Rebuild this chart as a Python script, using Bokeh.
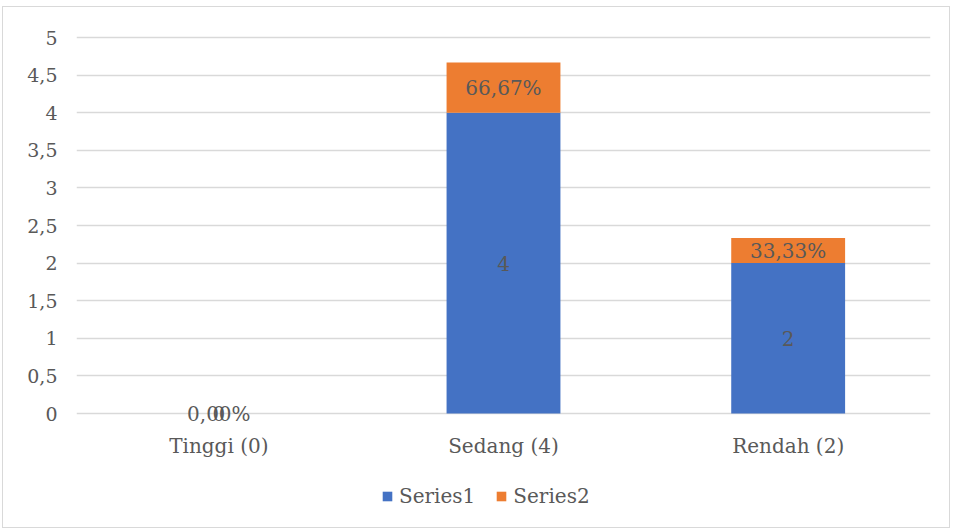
from bokeh.plotting import figure
from bokeh.models import ColumnDataSource, FixedTicker, Legend, LegendItem, LabelSet, FactorRange, Range1d
from bokeh.core.properties import value
from bokeh.embed import file_html
from bokeh.resources import INLINE

categories = ["Tinggi (0)", "Sedang (4)", "Rendah (2)"]
series1 = [0, 4, 2]
series2 = [0, 0.6667, 0.3333]
series1_labels = ["0", "4", "2"]
series2_labels = ["0,00%", "66,67%", "33,33%"]
y_ticks = [0, 0.5, 1, 1.5, 2, 2.5, 3, 3.5, 4, 4.5, 5]
y_tick_labels = ["0", "0,5", "1", "1,5", "2", "2,5", "3", "3,5", "4", "4,5", "5"]

FONT = "DejaVu Serif"
TXT = "#595959"
GRID = "#d9d9d9"
BLUE = "#4472C4"
ORANGE = "#ED7D31"
FS = "20px"
FS_Y = "19px"

W, H = 948, 522
TOP, LEFT, RIGHT, BOTTOM = 28, 73, 21, 0
PX_PER_UNIT = 75.2
frame_h = H - TOP - BOTTOM
y_max = y_ticks[-1] + 2 / PX_PER_UNIT
y_min = y_max - frame_h / PX_PER_UNIT

top1 = series1
top2 = [a + b for a, b in zip(series1, series2)]
mid1 = [a / 2 for a in series1]
mid2 = [a + b / 2 for a, b in zip(series1, series2)]
base = [0 for _ in categories]

src = ColumnDataSource(dict(cat=categories, s1=series1, t1=top1, t2=top2, base=base,
                            m1=mid1, m2=mid2, l1=series1_labels, l2=series2_labels))

p = figure(width=W, height=H, x_range=FactorRange(*categories), y_range=Range1d(y_min, y_max),
           output_backend="svg", toolbar_location=None,
           min_border_left=LEFT, min_border_right=RIGHT, min_border_top=TOP, min_border_bottom=BOTTOM)
p.margin = (6, 0, 0, 2)
p.x_range.range_padding = 0
p.outline_line_color = None
p.background_fill_color = "white"
p.border_fill_color = "white"
p.styles = {"border": "1px solid #d9d9d9"}

r1 = p.vbar(x="cat", top="t1", bottom=0, width=0.4, source=src, color=BLUE, line_color=None)
r2 = p.vbar(x="cat", top="t2", bottom="t1", width=0.4, source=src, color=ORANGE, line_color=None)

p.add_layout(LabelSet(x="cat", y="m1", text="l1", source=src, text_align="center",
                      text_baseline="middle", text_font=value(FONT), text_font_size=value(FS),
                      text_color=TXT))
p.add_layout(LabelSet(x="cat", y="m2", text="l2", source=src, text_align="center",
                      text_baseline="middle", text_font=value(FONT), text_font_size=value(FS),
                      text_color=TXT))
# category labels under the zero line
p.add_layout(LabelSet(x="cat", y="base", text="cat", source=src, text_align="center",
                      text_baseline="middle", y_offset=-32, text_font=value(FONT),
                      text_font_size=value(FS), text_color=TXT))

p.yaxis.ticker = FixedTicker(ticks=y_ticks)
p.yaxis.major_label_overrides = {t: l for t, l in zip(y_ticks, y_tick_labels)}
p.yaxis.axis_line_color = None
p.yaxis.major_tick_line_color = None
p.yaxis.minor_tick_line_color = None
p.yaxis.major_label_text_font = FONT
p.yaxis.major_label_text_font_size = FS_Y
p.yaxis.major_label_text_color = TXT
p.yaxis.major_label_standoff = 13

p.xaxis.visible = False
p.xgrid.grid_line_color = None
p.ygrid.grid_line_color = GRID
p.ygrid.grid_line_width = 1.5

legend = Legend(items=[LegendItem(label="Series1", renderers=[r1]),
                       LegendItem(label="Series2", renderers=[r2])],
                orientation="horizontal", location=(305, 21),
                label_text_font=FONT, label_text_font_size=FS, label_text_color=TXT,
                glyph_width=12, glyph_height=12, spacing=20, label_standoff=6,
                border_line_color=None, background_fill_alpha=0, padding=0, margin=0)
p.add_layout(legend, "center")

open("out.html", "w").write(file_html(p, INLINE))
